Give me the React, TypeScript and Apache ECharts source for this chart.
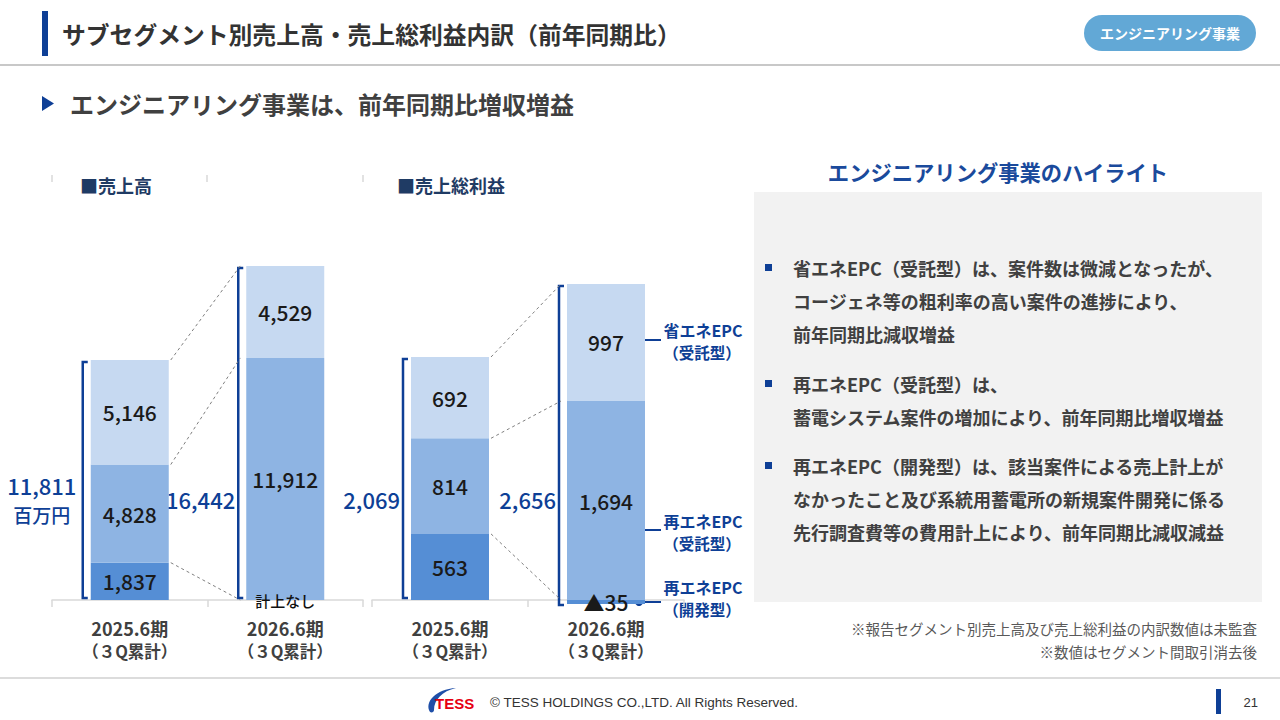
import React, { useEffect, useRef } from "react";
import * as echarts from "echarts";

// ---------- data ----------
const periods = ["2025.6期", "2026.6期"];
const periodSub = "（３Q累計）";
const segmentNames = ["再エネEPC（開発型）", "再エネEPC（受託型）", "省エネEPC（受託型）"];
const salesDev = [1837, 0];
const salesCons = [4828, 11912];
const salesSave = [5146, 4529];
const salesTotals = [11811, 16442];
const profitDev = [563, -35];
const profitCons = [814, 1694];
const profitSave = [692, 997];
const profitTotals = [2069, 2656];
const unitLabel = "百万円";

const highlightLines = [
  ["省エネEPC（受託型）は、案件数は微減となったが、", "コージェネ等の粗利率の高い案件の進捗により、", "前年同期比減収増益"],
  ["再エネEPC（受託型）は、", "蓄電システム案件の増加により、前年同期比増収増益"],
  ["再エネEPC（開発型）は、該当案件による売上計上が", "なかったこと及び系統用蓄電所の新規案件開発に係る", "先行調査費等の費用計上により、前年同期比減収減益"],
];
const notes = ["※報告セグメント別売上高及び売上総利益の内訳数値は未監査", "※数値はセグメント間取引消去後"];

// ---------- style ----------
const FONT = "'Noto Sans CJK JP', 'Noto Sans', sans-serif";
const BLUE = "#0e3f96";
const SEG_COLORS = ["#558ed5", "#8eb4e3", "#c6d9f1"];
const BAR_W = 78;
const TOTAL_Y = 499;

const fmt = (v: number) => Math.abs(v).toLocaleString("en-US");

try {
  echarts.graphic.registerShape(
    "tessSwoosh",
    echarts.graphic.extendPath("M4,24 C-2,14 10,1 30,0 C16,3 8,12 8,22 C8,24 6,25 4,24 Z", {})
  );
} catch (e) {}

function cumulativeTops(arrs: number[][], i: number) {
  const out: number[] = [];
  let s = 0;
  for (const a of arrs) {
    s += Math.max(0, a[i]);
    out.push(s);
  }
  return out;
}

function buildGridSeries(arrs: number[][], totals: number[], gi: number, stack: string, withUnit: boolean) {
  const series: any[] = arrs.map((arr, k) => ({
    type: "bar",
    name: segmentNames[k],
    data: arr,
    stack,
    xAxisIndex: gi,
    yAxisIndex: gi,
    barWidth: BAR_W,
    itemStyle: { color: SEG_COLORS[k] },
    emphasis: { disabled: true },
    label: {
      show: true,
      position: "inside",
      fontSize: 21,
      fontWeight: 500,
      color: "#1a1a1a",
      fontFamily: FONT,
      formatter: (p: any) => (p.value === 0 ? "{s|計上なし}" : p.value < 0 ? "▲" + fmt(p.value) : fmt(p.value)),
      rich: { s: { fontSize: 15, fontWeight: 500, color: "#111", fontFamily: FONT } },
    },
  }));

  const bracketData = periods.map((_, i) => {
    let lo = 0, hi = 0;
    arrs.forEach((a) => {
      if (a[i] < 0) lo += a[i];
      else hi += a[i];
    });
    return [i, lo, hi, totals[i]];
  });

  series.push({
    type: "custom",
    xAxisIndex: gi,
    yAxisIndex: gi,
    clip: false,
    silent: true,
    encode: { x: 0, y: [1, 2] },
    data: bracketData,
    renderItem: (params: any, api: any) => {
      const cat = api.value(0), lo = api.value(1), hi = api.value(2), tot = api.value(3);
      const base = api.coord([cat, 0]);
      const x = base[0] - BAR_W / 2 - 8;
      const yTop = api.coord([cat, hi])[1] + 2;
      const yBot = api.coord([cat, lo])[1] + (lo < 0 ? 1 : -2);
      const unit = withUnit && params.dataIndex === 0;
      const labelStyle = {
        verticalAlign: "middle",
        fontSize: 22,
        fontWeight: 500,
        fontFamily: FONT,
        fill: BLUE,
      };
      const children: any[] = [
        {
          type: "polyline",
          shape: { points: [[x + 5, yTop], [x, yTop], [x, yBot], [x + 5, yBot]] },
          style: { stroke: BLUE, lineWidth: 2.5, fill: null },
        },
      ];
      if (unit) {
        children.push({ type: "text", x: x - 41, y: TOTAL_Y - 14, style: { ...labelStyle, text: fmt(tot), align: "center" } });
        children.push({ type: "text", x: x - 41, y: TOTAL_Y + 15, style: { ...labelStyle, fontSize: 19, text: unitLabel, align: "center" } });
      } else {
        children.push({ type: "text", x: x - 3, y: TOTAL_Y, style: { ...labelStyle, text: fmt(tot), align: "right" } });
      }
      return { type: "group", children };
    },
  });

  const fromTops = cumulativeTops(arrs, 0);
  const toTops = cumulativeTops(arrs, 1);
  const linkData = arrs.map((a, k) => [0, fromTops[k], 1, toTops[k]]);
  series.push({
    type: "custom",
    xAxisIndex: gi,
    yAxisIndex: gi,
    clip: false,
    silent: true,
    encode: { x: [0, 2], y: [1, 3] },
    data: linkData,
    renderItem: (params: any, api: any) => {
      const p1 = api.coord([api.value(0), api.value(1)]);
      const p2 = api.coord([api.value(2), api.value(3)]);
      return {
        type: "line",
        shape: { x1: p1[0] + BAR_W / 2 + 2, y1: p1[1], x2: p2[0] - BAR_W / 2 - 6, y2: p2[1] },
        style: { stroke: "#808080", lineWidth: 1, lineDash: [3, 3] },
      };
    },
  });
  return series;
}

function xAxisFor(gi: number, margin: number) {
  return {
    type: "category",
    gridIndex: gi,
    data: periods,
    axisLine: { show: true, onZero: true, lineStyle: { color: "#d9d9d9", width: 1.5 } },
    axisTick: { show: true, length: 7, lineStyle: { color: "#d9d9d9", width: 1.5 } },
    axisLabel: {
      margin,
      formatter: (v: string) => `{a|${v}}\n{b|${periodSub}}`,
      rich: {
        a: { fontSize: 18, fontWeight: "bold", color: "#404040", lineHeight: 23, fontFamily: FONT },
        b: { fontSize: 16.5, fontWeight: "bold", color: "#404040", lineHeight: 23, fontFamily: FONT },
      },
    },
  };
}

function text(x: number, y: number, t: string, o: any = {}) {
  return {
    type: "text",
    x,
    y,
    silent: true,
    style: {
      text: t,
      fontFamily: FONT,
      fontSize: 16,
      fill: "#404040",
      align: "left",
      verticalAlign: "middle",
      ...o,
    },
  };
}

function buildGraphic() {
  const g: any[] = [];
  // header
  g.push({ type: "rect", shape: { x: 42, y: 11, width: 6, height: 45 }, style: { fill: BLUE } });
  g.push(text(62, 33, "サブセグメント別売上高・売上総利益内訳（前年同期比）", { fontSize: 23.8, fontWeight: "bold", fill: "#333333" }));
  g.push({ type: "line", shape: { x1: 0, y1: 65, x2: 1280, y2: 65 }, style: { stroke: "#c8c8c8", lineWidth: 2 } });
  g.push({ type: "rect", shape: { x: 1084, y: 15, width: 172, height: 36, r: 18 }, style: { fill: "#62a8d6" } });
  g.push(text(1170, 33, "エンジニアリング事業", { fontSize: 14, fontWeight: "bold", fill: "#ffffff", align: "center" }));
  // subtitle
  g.push({ type: "polygon", shape: { points: [[42, 96], [54, 103.5], [42, 111]] }, style: { fill: BLUE } });
  g.push(text(70, 103, "エンジニアリング事業は、前年同期比増収増益", { fontSize: 24, fontWeight: "bold", fill: "#404040" }));
  // chart titles
  g.push(text(80, 185, "■売上高", { fontSize: 18, fontWeight: "bold", fill: "#1f3b64" }));
  g.push(text(397, 185, "■売上総利益", { fontSize: 18, fontWeight: "bold", fill: "#1f3b64" }));
  [52, 207, 363].forEach((x) =>
    g.push({ type: "line", shape: { x1: x, y1: 175, x2: x, y2: 182 }, style: { stroke: "#d9d9d9", lineWidth: 1.5 } })
  );
  // callouts
  const callouts = [
    { y: 340, t1: "省エネEPC", t2: "（受託型）", ty: 330 },
    { y: 530, t1: "再エネEPC", t2: "（受託型）", ty: 521 },
    { y: 602, t1: "再エネEPC", t2: "（開発型）", ty: 587 },
  ];
  callouts.forEach((c) => {
    g.push({ type: "line", shape: { x1: 639, y1: c.y, x2: 661, y2: c.y }, style: { stroke: BLUE, lineWidth: 2 } });
    g.push({ type: "circle", shape: { cx: 639, cy: c.y, r: 4 }, style: { fill: BLUE } });
    g.push(text(703, c.ty, c.t1, { fontSize: 16, fontWeight: "bold", fill: BLUE, align: "center" }));
    g.push(text(702, c.ty + 22, c.t2, { fontSize: 15.5, fontWeight: "bold", fill: BLUE, align: "center" }));
  });
  // highlight panel
  g.push(text(998, 171, "エンジニアリング事業のハイライト", { fontSize: 21.3, fontWeight: "bold", fill: "#1a4a9c", align: "center" }));
  g.push({ type: "rect", shape: { x: 754, y: 192, width: 508, height: 410 }, style: { fill: "#f2f2f2" } });
  const blockY = [268, 384, 466];
  highlightLines.forEach((lines, bi) => {
    g.push({ type: "rect", shape: { x: 765, y: blockY[bi] - 4, width: 7, height: 7 }, style: { fill: BLUE } });
    lines.forEach((ln, li) => {
      g.push(text(793, blockY[bi] + li * 33, ln, { fontSize: 18, fontWeight: "bold", fill: "#404040" }));
    });
  });
  notes.forEach((n, i) =>
    g.push(text(1257, 628 + i * 23, n, { fontSize: 14.5, fill: "#595959", align: "right" }))
  );
  // footer
  g.push({ type: "line", shape: { x1: 0, y1: 678, x2: 1280, y2: 678 }, style: { stroke: "#d0d0d0", lineWidth: 1.5 } });
  g.push({ type: "tessSwoosh", x: 426, y: 688, scaleX: 1, scaleY: 1, style: { fill: "#1f4fa8" } });
  g.push(text(435, 703, "TESS", { fontSize: 15, fontWeight: "bold", fill: "#e60012", fontFamily: "'Liberation Sans Narrow', 'Liberation Sans', sans-serif" }));
  g.push(text(490, 702, "© TESS HOLDINGS CO.,LTD. All Rights Reserved.", { fontSize: 13.5, fill: "#333333", fontFamily: "'Liberation Sans Narrow', 'Liberation Sans', sans-serif" }));
  g.push({ type: "rect", shape: { x: 1216, y: 689, width: 5, height: 25 }, style: { fill: BLUE } });
  g.push(text(1258, 702, "21", { fontSize: 13, fill: "#333333", align: "right", fontFamily: "'Liberation Sans', sans-serif" }));
  return g;
}

export default function App() {
  const ref = useRef<HTMLDivElement>(null);
  useEffect(() => {
    if (!ref.current) return;
    const chart = echarts.init(ref.current, null, { renderer: "svg" });
    // left grid scale: 240px per 11811 ; right: 243px per 2069
    const leftMax = 20000;
    const leftH = (leftMax * 240) / 11811;
    const rMin = -100, rMax = 3000;
    const rScale = 243 / 2069;
    const rTop = 600 - rMax * rScale;
    const rH = (rMax - rMin) * rScale;
    const rBelow = -rMin * rScale;
    chart.setOption({
      animation: false,
      backgroundColor: "#ffffff",
      textStyle: { fontFamily: FONT },
      grid: [
        { left: 52, top: 600 - leftH, width: 311, height: leftH, outerBoundsMode: "none" },
        { left: 372, top: rTop, width: 312, height: rH, outerBoundsMode: "none" },
      ],
      xAxis: [xAxisFor(0, 16), xAxisFor(1, 16 - rBelow)],
      yAxis: [
        { type: "value", gridIndex: 0, min: 0, max: leftMax, show: false, splitLine: { show: false } },
        { type: "value", gridIndex: 1, min: rMin, max: rMax, show: false, splitLine: { show: false } },
      ],
      series: [
        ...buildGridSeries([salesDev, salesCons, salesSave], salesTotals, 0, "sales", true),
        ...buildGridSeries([profitDev, profitCons, profitSave], profitTotals, 1, "profit", false),
      ],
      graphic: buildGraphic(),
    });
    return () => chart.dispose();
  }, []);
  return (
    <div
      ref={ref}
      style={{ position: "fixed", left: 0, top: 0, width: 1280, height: 720, background: "#fff" }}
    />
  );
}
